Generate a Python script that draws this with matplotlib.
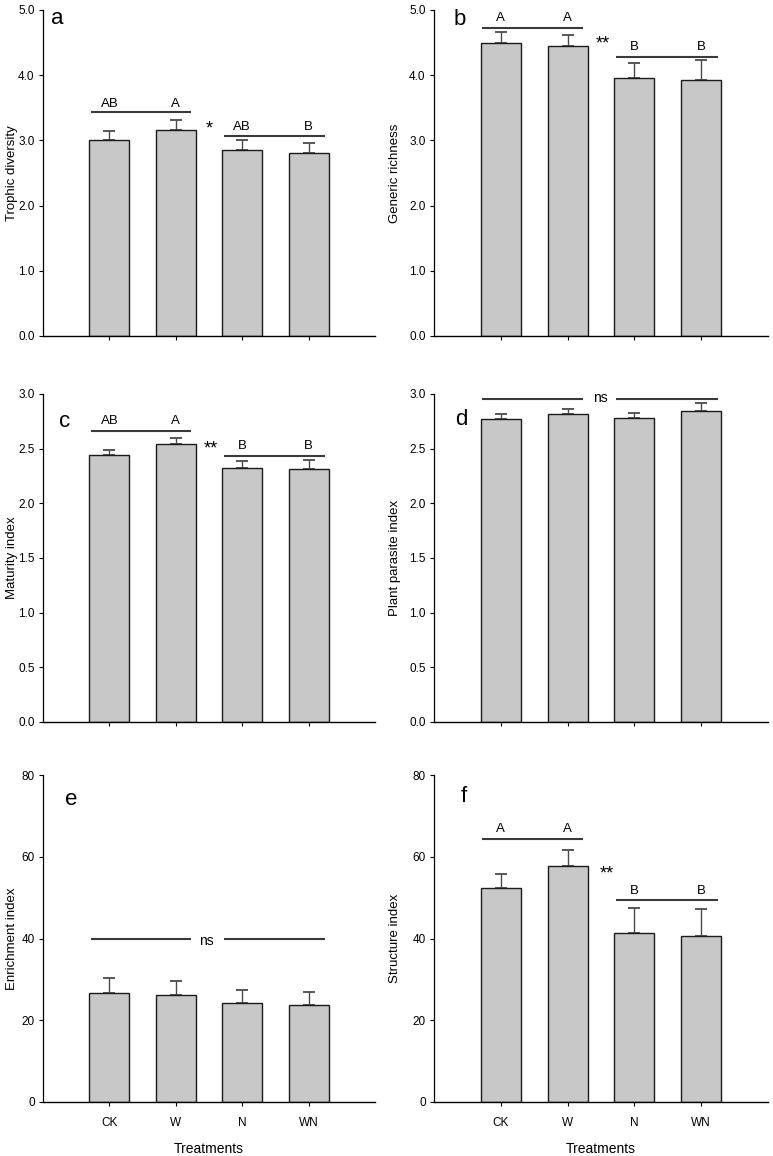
import matplotlib
matplotlib.use("Agg")
import matplotlib.pyplot as plt
import numpy as np
from matplotlib.ticker import FormatStrFormatter

plt.rcParams['font.family'] = ['Liberation Sans Narrow', 'Liberation Sans', 'DejaVu Sans']

treatments = ["CK", "W", "N", "WN"]

trophic = [3.01, 3.16, 2.86, 2.80]
trophic_err = [0.14, 0.15, 0.14, 0.16]
generic = [4.49, 4.45, 3.95, 3.92]
generic_err = [0.17, 0.17, 0.23, 0.31]
maturity = [2.44, 2.54, 2.32, 2.31]
maturity_err = [0.05, 0.06, 0.07, 0.09]
plant_parasite = [2.77, 2.82, 2.78, 2.84]
plant_parasite_err = [0.05, 0.04, 0.05, 0.08]
enrichment = [26.6, 26.2, 24.2, 23.7]
enrichment_err = [3.7, 3.5, 3.3, 3.2]
structure = [52.4, 57.7, 41.4, 40.5]
structure_err = [3.3, 4.0, 6.1, 6.7]

ylabels = ["Trophic diversity", "Generic richness", "Maturity index",
           "Plant parasite index", "Enrichment index", "Structure index"]
letters = ["a", "b", "c", "d", "e", "f"]
group_labels = [["AB", "A", "AB", "B"], ["A", "A", "B", "B"], ["AB", "A", "B", "B"],
                None, None, ["A", "A", "B", "B"]]
sig_marks = ["*", "**", "**", "ns", "ns", "**"]

W, H = 773, 1156
fig = plt.figure(figsize=(W / 100, H / 100), dpi=100)

specs = [
    (trophic, trophic_err, 5.0, np.arange(0, 5.01, 1.0), "%.1f", 3.43, 3.07, 3.56, 3.2, (1.5, 3.17), (-0.79, 4.87)),
    (generic, generic_err, 5.0, np.arange(0, 5.01, 1.0), "%.1f", 4.72, 4.28, 4.88, 4.44, (1.52, 4.48), (-0.62, 4.86)),
    (maturity, maturity_err, 3.0, np.arange(0, 3.01, 0.5), "%.1f", 2.66, 2.43, 2.75, 2.52, (1.53, 2.5), (-0.67, 2.75)),
    (plant_parasite, plant_parasite_err, 3.0, np.arange(0, 3.01, 0.5), "%.1f", 2.954, 2.954, None, None, (1.49, 2.96), (-0.59, 2.77)),
    (enrichment, enrichment_err, 80, np.arange(0, 81, 20), "%d", 39.8, 39.8, None, None, (1.46, 39.5), (-0.57, 73.9)),
    (structure, structure_err, 80, np.arange(0, 81, 20), "%d", 64.3, 49.4, 66.7, 51.6, (1.58, 55.8), (-0.56, 74.8)),
]

lefts = [43, 434]
rights = [375, 768]
rows = [(10, 336), (394, 722), (775, 1102)]
label_x = [18, 401]

x = np.arange(len(treatments))
line_col = "#3a3a3a"

for i, spec in enumerate(specs):
    vals, errs, ymax, ticks, fmt, l1, l2, ly1, ly2, mpos, lpos = spec
    r, c = divmod(i, 2)
    top, bot = rows[r]
    left, right = lefts[c], rights[c]
    ax = fig.add_axes([left / W, 1 - bot / H, (right - left) / W, (bot - top) / H])
    ax.bar(x, vals, width=0.6, color="#c8c8c8", edgecolor="#1a1a1a", linewidth=1.0, zorder=2)
    ax.errorbar(x, vals, yerr=[np.zeros(4), errs], fmt="none", ecolor="#4a4a4a",
                elinewidth=1.0, capsize=4, capthick=1.3, zorder=1)
    ax.set_xlim(-1.0, 4.0)
    ax.set_ylim(0, ymax)
    ax.set_yticks(ticks)
    ax.yaxis.set_major_formatter(FormatStrFormatter(fmt))
    ax.set_xticks(x)
    if r == 2:
        ax.set_xticklabels(treatments, fontsize=8.5)
        ax.set_xlabel("Treatments", fontsize=10, labelpad=9)
    else:
        ax.set_xticklabels([])
    for s in ["top", "right"]:
        ax.spines[s].set_visible(False)
    ax.spines["left"].set_linewidth(0.9)
    ax.spines["bottom"].set_linewidth(1.0)
    ax.tick_params(axis="both", direction="out", length=3, width=0.8, labelsize=8.5, pad=3)
    ax.tick_params(axis="x", pad=8)
    ax.set_ylabel(ylabels[i], fontsize=9.5, family=["Liberation Sans", "DejaVu Sans"])
    ax.yaxis.set_label_coords((label_x[c] - left) / (right - left), 0.5)

    ax.plot([-0.28, 1.23], [l1, l1], color=line_col, linewidth=1.5, solid_capstyle="butt")
    ax.plot([1.73, 3.25], [l2, l2], color=line_col, linewidth=1.5, solid_capstyle="butt")
    gl = group_labels[i]
    if gl is not None:
        for k in range(4):
            yy = ly1 if k < 2 else ly2
            ax.text(x[k], yy, gl[k], ha="center", va="center", fontsize=9.5,
                    family=["Liberation Sans", "DejaVu Sans"])
    if sig_marks[i] == "ns":
        ax.text(mpos[0], mpos[1], "ns", ha="center", va="center", fontsize=10)
    else:
        ax.text(mpos[0], mpos[1], sig_marks[i], ha="center", va="center",
                fontsize=13, family=["Liberation Sans", "DejaVu Sans"])
    ax.text(lpos[0], lpos[1], letters[i], ha="center", va="center", fontsize=16,
            family=["Liberation Sans", "DejaVu Sans"])

fig.savefig("out.png", dpi=100)
